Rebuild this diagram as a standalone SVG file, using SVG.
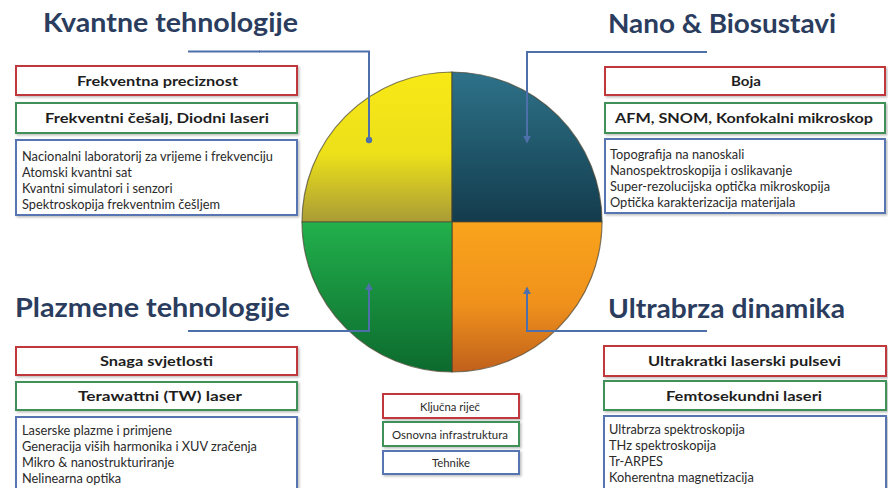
<svg xmlns="http://www.w3.org/2000/svg" width="888" height="488" viewBox="0 0 888 488">
  <defs>
    <style>
      .title { font-family: "Lato", "Liberation Sans", sans-serif; font-weight: bold; font-size: 27px; fill: #2b3d5e; }
      .hdr { font-family: "Lato", "Liberation Sans", sans-serif; font-weight: bold; font-size: 14px; fill: #1e1e1e; }
      .item { font-family: "Lato", "Liberation Sans", sans-serif; font-size: 12.8px; fill: #2a2a2a; }
      .leg { font-family: "Lato", "Liberation Sans", sans-serif; font-size: 11px; fill: #2a2a2a; }
      .red { fill: #ffffff; stroke: #c0393b; stroke-width: 2; filter: url(#sh); }
      .green { fill: #ffffff; stroke: #3f9159; stroke-width: 2; filter: url(#sh); }
      .blue { fill: #ffffff; stroke: #5675b2; stroke-width: 2; filter: url(#sh); }
      .conn { fill: none; stroke: #4d70aa; stroke-width: 2; }
      .quad { stroke: #4a4530; stroke-width: 1.2; stroke-opacity: 0.7; }
    </style>
    <filter id="sh" x="-5%" y="-20%" width="110%" height="150%">
      <feDropShadow dx="1.5" dy="1.5" stdDeviation="1" flood-color="#000" flood-opacity="0.25"/>
    </filter>
    <linearGradient id="gY" x1="0" y1="0" x2="0" y2="1">
      <stop offset="0" stop-color="#f8e816"/>
      <stop offset="0.55" stop-color="#ece01a"/>
      <stop offset="1" stop-color="#a99b36"/>
    </linearGradient>
    <linearGradient id="gT" x1="0" y1="0" x2="0" y2="1">
      <stop offset="0" stop-color="#2e7289"/>
      <stop offset="1" stop-color="#133c4d"/>
    </linearGradient>
    <linearGradient id="gG" x1="0" y1="0" x2="0" y2="1">
      <stop offset="0" stop-color="#22b04c"/>
      <stop offset="1" stop-color="#0c6a2e"/>
    </linearGradient>
    <linearGradient id="gO" x1="0" y1="0" x2="0" y2="1">
      <stop offset="0" stop-color="#faa41c"/>
      <stop offset="0.55" stop-color="#ef911c"/>
      <stop offset="1" stop-color="#c0601c"/>
    </linearGradient>
    <linearGradient id="fadeL" gradientUnits="userSpaceOnUse" x1="188" y1="0" x2="260" y2="0">
      <stop offset="0" stop-color="#4d70aa" stop-opacity="0.2"/>
      <stop offset="1" stop-color="#4d70aa"/>
    </linearGradient>
    <linearGradient id="fadeR" gradientUnits="userSpaceOnUse" x1="707" y1="0" x2="640" y2="0">
      <stop offset="0" stop-color="#4d70aa" stop-opacity="0.2"/>
      <stop offset="1" stop-color="#4d70aa"/>
    </linearGradient>
    <marker id="arr" viewBox="0 0 10 10" refX="8" refY="5" markerWidth="4" markerHeight="4" orient="auto">
      <path d="M0,0 L10,5 L0,10 Z" fill="#4d70aa"/>
    </marker>
    <marker id="dot" viewBox="0 0 10 10" refX="5" refY="5" markerWidth="4" markerHeight="4">
      <circle cx="5" cy="5" r="4" fill="#4d70aa"/>
    </marker>
  </defs>

  <rect x="0" y="0" width="888" height="488" fill="#ffffff"/>

  <g id="wheel">
    <path class="quad" d="M452,222 H302 A150,150 0 0 1 452,72 Z" fill="url(#gY)"/>
    <path class="quad" d="M452,222 V72 A150,150 0 0 1 602,222 Z" fill="url(#gT)"/>
    <path class="quad" d="M452,222 H602 A150,150 0 0 1 452,372 Z" fill="url(#gO)"/>
    <path class="quad" d="M452,222 V372 A150,150 0 0 1 302,222 Z" fill="url(#gG)"/>
  </g>

  <g id="connectors">
    <path class="conn" d="M188,51.5 H260" stroke="url(#fadeL)"/>
    <path class="conn" d="M259,51.5 H369 V140" marker-end="url(#dot)"/>
    <path class="conn" d="M707,52 H640" stroke="url(#fadeR)"/>
    <path class="conn" d="M641,52 H527 V142" marker-end="url(#arr)"/>
    <path class="conn" d="M188,331 H260" stroke="url(#fadeL)"/>
    <path class="conn" d="M259,331 H369 V284" marker-end="url(#arr)"/>
    <path class="conn" d="M707,331 H640" stroke="url(#fadeR)"/>
    <path class="conn" d="M641,331 H527 V288" marker-end="url(#arr)"/>
  </g>

  <g id="kvantne">
    <text class="title" x="43" y="32" textLength="255" lengthAdjust="spacingAndGlyphs">Kvantne tehnologije</text>
    <rect class="red" x="16" y="66" width="281" height="29"/>
    <text class="hdr" x="77" y="86" textLength="161" lengthAdjust="spacingAndGlyphs">Frekventna preciznost</text>
    <rect class="green" x="16" y="103" width="281" height="30"/>
    <text class="hdr" x="45" y="123" textLength="224" lengthAdjust="spacingAndGlyphs">Frekventni češalj, Diodni laseri</text>
    <rect class="blue" x="16" y="140" width="281" height="75"/>
    <text class="item" x="22" y="160.5">Nacionalni laboratorij za vrijeme i frekvenciju</text>
    <text class="item" x="22" y="176.5">Atomski kvantni sat</text>
    <text class="item" x="22" y="193">Kvantni simulatori i senzori</text>
    <text class="item" x="22" y="209">Spektroskopija frekventnim češljem</text>
  </g>

  <g id="nano">
    <text class="title" x="608" y="33" textLength="228" lengthAdjust="spacingAndGlyphs">Nano &amp; Biosustavi</text>
    <rect class="red" x="605" y="67" width="280" height="28"/>
    <text class="hdr" x="731" y="86" textLength="30" lengthAdjust="spacingAndGlyphs">Boja</text>
    <rect class="green" x="605" y="103" width="280" height="30"/>
    <text class="hdr" x="615" y="123" textLength="258" lengthAdjust="spacingAndGlyphs">AFM, SNOM, Konfokalni mikroskop</text>
    <rect class="blue" x="605" y="139" width="280" height="74"/>
    <text class="item" x="610" y="158.5">Topografija na nanoskali</text>
    <text class="item" x="610" y="174.5">Nanospektroskopija i oslikavanje</text>
    <text class="item" x="610" y="190.5">Super-rezolucijska optička mikroskopija</text>
    <text class="item" x="610" y="206.5">Optička karakterizacija materijala</text>
  </g>

  <g id="plazmene">
    <text class="title" x="15" y="317" textLength="275" lengthAdjust="spacingAndGlyphs">Plazmene tehnologije</text>
    <rect class="red" x="16" y="347" width="281" height="28"/>
    <text class="hdr" x="100" y="365.5" textLength="113" lengthAdjust="spacingAndGlyphs">Snaga svjetlosti</text>
    <rect class="green" x="16" y="382" width="281" height="28"/>
    <text class="hdr" x="78" y="400.5" textLength="164" lengthAdjust="spacingAndGlyphs">Terawattni (TW) laser</text>
    <rect class="blue" x="16" y="417" width="281" height="80"/>
    <text class="item" x="22" y="435">Laserske plazme i primjene</text>
    <text class="item" x="22" y="451">Generacija viših harmonika i XUV zračenja</text>
    <text class="item" x="22" y="467">Mikro &amp; nanostrukturiranje</text>
    <text class="item" x="22" y="483">Nelinearna optika</text>
  </g>

  <g id="ultrabrza">
    <text class="title" x="608" y="318" textLength="237" lengthAdjust="spacingAndGlyphs">Ultrabrza dinamika</text>
    <rect class="red" x="604" y="346" width="282" height="30"/>
    <text class="hdr" x="648" y="366" textLength="193" lengthAdjust="spacingAndGlyphs">Ultrakratki laserski pulsevi</text>
    <rect class="green" x="604" y="381" width="282" height="29"/>
    <text class="hdr" x="666" y="400.5" textLength="156" lengthAdjust="spacingAndGlyphs">Femtosekundni laseri</text>
    <rect class="blue" x="604" y="416" width="282" height="80"/>
    <text class="item" x="609" y="434">Ultrabrza spektroskopija</text>
    <text class="item" x="609" y="450">THz spektroskopija</text>
    <text class="item" x="609" y="466">Tr-ARPES</text>
    <text class="item" x="609" y="482">Koherentna magnetizacija</text>
  </g>

  <g id="legend">
    <rect class="red" x="383" y="394" width="136" height="24" stroke-width="1.6"/>
    <text class="leg" x="420" y="410.5" textLength="60" lengthAdjust="spacingAndGlyphs">Ključna riječ</text>
    <rect class="green" x="383" y="422" width="136" height="24" stroke-width="1.6"/>
    <text class="leg" x="392" y="438.5" textLength="116" lengthAdjust="spacingAndGlyphs">Osnovna infrastruktura</text>
    <rect class="blue" x="383" y="451" width="136" height="23" stroke-width="1.6"/>
    <text class="leg" x="432" y="467" textLength="38" lengthAdjust="spacingAndGlyphs">Tehnike</text>
  </g>
</svg>
